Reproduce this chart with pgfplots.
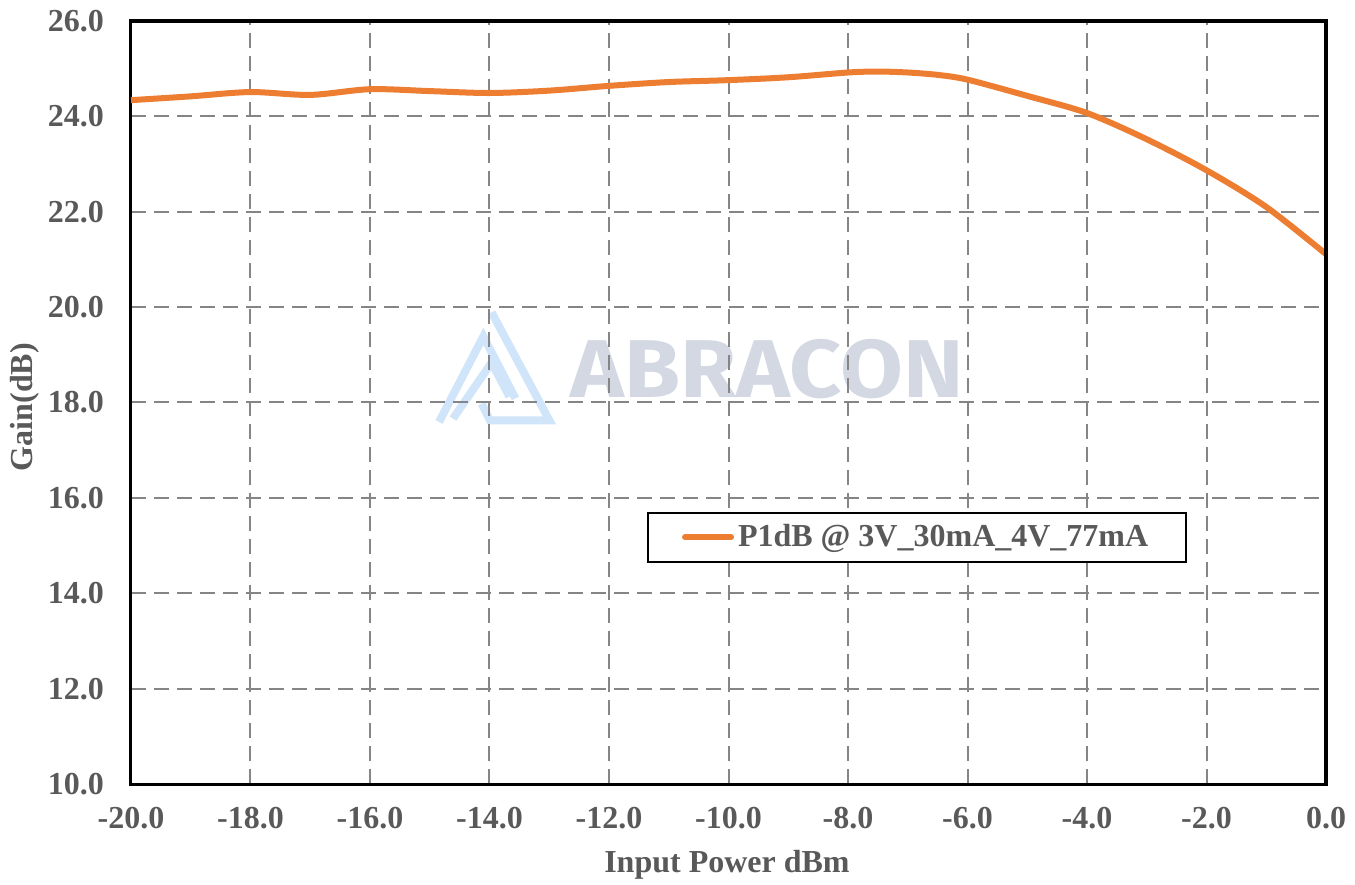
\documentclass[border=0pt]{standalone}
\usepackage{fontspec}
\setmainfont{Liberation Serif}
\newfontfamily\wmfont{Fira Sans}
\usepackage{pgfplots}
\pgfplotsset{compat=1.18}
\definecolor{txtgray}{HTML}{595959}
\definecolor{lineorange}{HTML}{ED7D31}
\definecolor{gridgray}{HTML}{858585}
\definecolor{wmtext}{HTML}{D3D8E2}
\definecolor{wmblue}{HTML}{D0E4FA}
\begin{document}
\begin{tikzpicture}[x=1pt,y=1pt]
\useasboundingbox (-65.5,-50) rectangle (612,392);
% watermark (px -> pt: X=(px-131)/2, Y=(784-py)/2)
\begin{scope}[line width=4pt, wmblue, line join=miter]
\draw (154,181) -- (176.2,223.8) -- (192.2,192.8);
\draw (180.3,235.8) -- (209.2,181.8) -- (179.5,181.8) -- (175.3,190.2);
\draw (161,182.7) -- (180.3,210.7) -- (189.2,193.7);
\end{scope}
\node[wmtext, font=\wmfont\bfseries\fontsize{41}{41}\selectfont, xscale=1.11, transform shape] at (318,207.5) {ABRACON};
\begin{axis}[
  at={(0,0)}, anchor=south west,
  scale only axis, width=597.5pt, height=381.5pt,
  xmin=-20, xmax=0, ymin=10, ymax=26,
  xtick={-20,-18,...,0}, ytick={10,12,...,26},
  xticklabels={-20.0,-18.0,-16.0,-14.0,-12.0,-10.0,-8.0,-6.0,-4.0,-2.0,0.0},
  yticklabels={10.0,12.0,14.0,16.0,18.0,20.0,22.0,24.0,26.0},
  major tick length=0pt,
  tick label style={font=\fontsize{16}{19}\bfseries\selectfont, text=txtgray},
  yticklabel style={xshift=-10pt},
  xticklabel style={yshift=-8pt},
  grid=major,
  major grid style={gridgray, line width=1pt, dash pattern=on 7.5pt off 4pt},
  axis line style={black, line width=1.5pt},
  xlabel={Input Power dBm}, ylabel={Gain(dB)},
  label style={font=\fontsize{16}{19}\bfseries\selectfont, text=txtgray},
  xlabel style={at={(axis description cs:0.4987,-0.106)}, anchor=center},
  ylabel style={at={(axis description cs:-0.0887,0.494)}, anchor=center, rotate=0},
  legend style={at={(0.432,0.29)}, anchor=south west, draw=black, line width=0.8pt,
    font=\fontsize{16}{19}\bfseries\selectfont, text=txtgray,
    inner xsep=17pt, inner ysep=4pt},
  legend image code/.code={\draw[lineorange, line width=3pt, line cap=round] (0pt,0pt) -- (23pt,0pt);},
]
\addplot[lineorange, line width=3pt, smooth, tension=0.5] coordinates {
(-20,24.34) (-19,24.42) (-18,24.51) (-17,24.45) (-16,24.57) (-15,24.53) (-14,24.49)
(-13,24.54) (-12,24.64) (-11,24.72) (-10,24.76) (-9,24.82) (-8,24.92) (-7.5,24.94)
(-7,24.92) (-6.5,24.87) (-6,24.77) (-5,24.43) (-4,24.07) (-3,23.52) (-2,22.87)
(-1,22.10) (0,21.11)
};
\addlegendentry{P1dB @ 3V\_30mA\_4V\_77mA}
\draw[black, line width=2.5pt] (rel axis cs:0,1) -- (rel axis cs:1,1) -- (rel axis cs:1,0);
\end{axis}
\end{tikzpicture}
\end{document}
